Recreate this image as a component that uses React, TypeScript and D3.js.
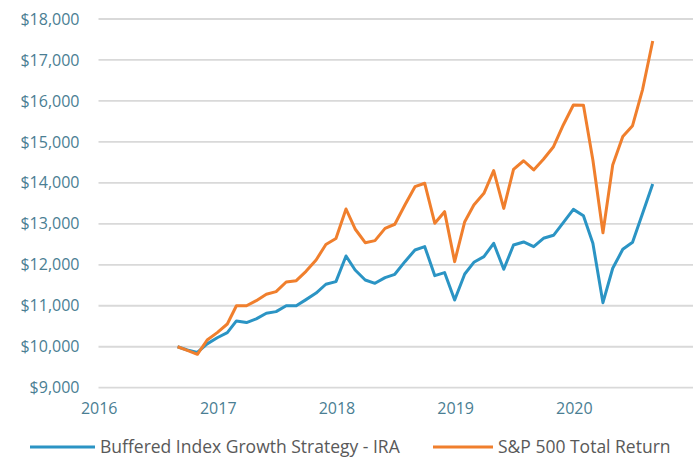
import React from "react";
import * as d3 from "d3";

const seriesNames = ["Buffered Index Growth Strategy - IRA", "S&P 500 Total Return"];
const seriesColors = ["#2b94c4", "#f07f2d"];

// Monthly values, Sep 2016 .. Sep 2020
const buffered = [
  10000, 9920, 9860, 10070, 10220, 10345, 10630, 10590, 10680, 10817,
  10857, 11000, 11000, 11150, 11310, 11525, 11590, 12215, 11874, 11630,
  11548, 11687, 11768, 12077, 12362, 12443, 11735, 11810, 11141, 11776,
  12061, 12200, 12525, 11890, 12484, 12557, 12443, 12647, 12720, 13028,
  13353, 13199, 12525, 11076, 11915, 12378, 12549, 13256, 13973,
];
const sp500 = [
  10000, 9910, 9815, 10165, 10345, 10555, 11000, 11000, 11125, 11280,
  11345, 11580, 11613, 11840, 12118, 12495, 12640, 13362, 12874, 12540,
  12590, 12890, 12990, 13460, 13907, 13990, 13013, 13297, 12077, 13053,
  13460, 13745, 14298, 13378, 14330, 14540, 14315, 14575, 14883, 15413,
  15900, 15893, 14558, 12784, 14437, 15130, 15397, 16284, 17463,
];
const startDate = new Date(2016, 8, 1);
const yTicks = [9000, 10000, 11000, 12000, 13000, 14000, 15000, 16000, 17000, 18000];
const xYears = [2016, 2017, 2018, 2019, 2020];

export default function App() {
  const W = 696;
  const H = 460;
  const x = d3
    .scaleTime()
    .domain([new Date(2016, 0, 1), new Date(2021, 0, 1)])
    .range([98.2, 692.4]);
  const y = d3.scaleLinear().domain([9000, 18000]).range([387.7, 19]);
  const dates = buffered.map((_, i) => d3.timeMonth.offset(startDate, i));
  const line = d3
    .line<number>()
    .x((_, i) => x(dates[i]))
    .y((d) => y(d));
  const fmt = d3.format("$,");
  const font = "'Open Sans', 'Noto Sans', sans-serif";
  const series = [buffered, sp500];
  const legendLine = [
    [30, 95],
    [433, 493],
  ];

  return (
    <svg
      width={W}
      height={H}
      style={{ position: "absolute", left: 0, top: 0, background: "#fff" }}
      fontFamily={font}
    >
      {yTicks.map((t) => (
        <g key={t}>
          <line x1={98.5} x2={693} y1={y(t)} y2={y(t)} stroke="#d9d9d9" strokeWidth={1.8} />
          <text x={79.5} y={y(t)} dy="0.35em" textAnchor="end" fontSize={16} fill="#4a7e93">
            {fmt(t)}
          </text>
        </g>
      ))}
      {xYears.map((yr) => (
        <text
          key={yr}
          x={x(new Date(yr, 0, 1)) + 1}
          y={414}
          textAnchor="middle"
          fontSize={16}
          fill="#4a7e93"
        >
          {yr}
        </text>
      ))}
      {series.map((s, k) => (
        <path
          key={k}
          d={line(s) || ""}
          fill="none"
          stroke={seriesColors[k]}
          strokeWidth={3}
          strokeLinejoin="round"
        />
      ))}
      {seriesNames.map((n, k) => (
        <g key={n}>
          <line
            x1={legendLine[k][0]}
            x2={legendLine[k][1]}
            y1={447}
            y2={447}
            stroke={seriesColors[k]}
            strokeWidth={3}
          />
          <text x={legendLine[k][1] + 5} y={447} dy="0.35em" fontSize={17.5} fill="#595959">
            {n}
          </text>
        </g>
      ))}
    </svg>
  );
}
